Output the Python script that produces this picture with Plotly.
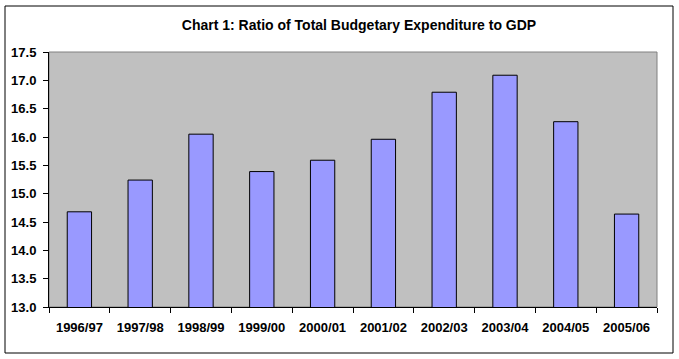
import plotly.graph_objects as go

categories = ["1996/97", "1997/98", "1998/99", "1999/00", "2000/01",
              "2001/02", "2002/03", "2003/04", "2004/05", "2005/06"]
ratio = [14.68, 15.24, 16.05, 15.39, 15.59, 15.96, 16.79, 17.09, 16.27, 14.64]
y_ticks = [13.0, 13.5, 14.0, 14.5, 15.0, 15.5, 16.0, 16.5, 17.0, 17.5]

W, H = 679, 359
L, R, T, B = 49, 22, 52, 52
pw, ph = W - L - R, H - T - B

fig = go.Figure(go.Bar(
    x=categories, y=ratio,
    marker=dict(color="#9999FF", line=dict(color="black", width=1)),
    hoverinfo="x+y",
))

font = "Liberation Sans, Arial, sans-serif"

fig.update_layout(
    width=W, height=H,
    margin=dict(l=L, r=R, t=T, b=B, autoexpand=False),
    paper_bgcolor="white",
    plot_bgcolor="#C0C0C0",
    bargap=0.6,
    showlegend=False,
    title=dict(text="<b>Chart 1: Ratio of Total Budgetary Expenditure to GDP</b>",
               x=359 / W, xref="container", xanchor="center",
               y=1 - 25 / H, yref="container", yanchor="middle",
               font=dict(family=font, size=14, color="black")),
    xaxis=dict(
        type="category", showline=True, linecolor="black", linewidth=1,
        ticks="outside", tickson="boundaries", ticklen=5, tickcolor="black",
        ticklabelstandoff=8,
        tickfont=dict(family=font, size=13, color="black"),
        showgrid=False, zeroline=False,
        tickvals=categories, ticktext=[f"<b>{c}</b>" for c in categories],
    ),
    yaxis=dict(
        range=[13.0, 17.5], tickvals=y_ticks,
        ticktext=[f"<b>{v:.1f}</b>" for v in y_ticks],
        showline=True, linecolor="black", linewidth=1,
        ticks="outside", ticklen=5, tickcolor="black",
        ticklabelstandoff=4,
        tickfont=dict(family=font, size=13, color="black"),
        showgrid=False, zeroline=False,
    ),
)

# plot-area border (gray) and outer chart border (black)
fig.add_shape(type="rect", xref="paper", yref="paper", x0=0, x1=1, y0=0, y1=1,
              line=dict(color="#808080", width=1), layer="below")
fig.add_shape(type="rect", xref="paper", yref="paper",
              x0=(5 - L) / pw, x1=(673 - L) / pw,
              y0=(T + ph - 353) / ph, y1=(T + ph - 6) / ph,
              line=dict(color="black", width=1))

fig.write_html("out.html",
               config={"displayModeBar": False},
               post_script="document.body.style.margin='0';document.body.style.overflow='hidden';")
